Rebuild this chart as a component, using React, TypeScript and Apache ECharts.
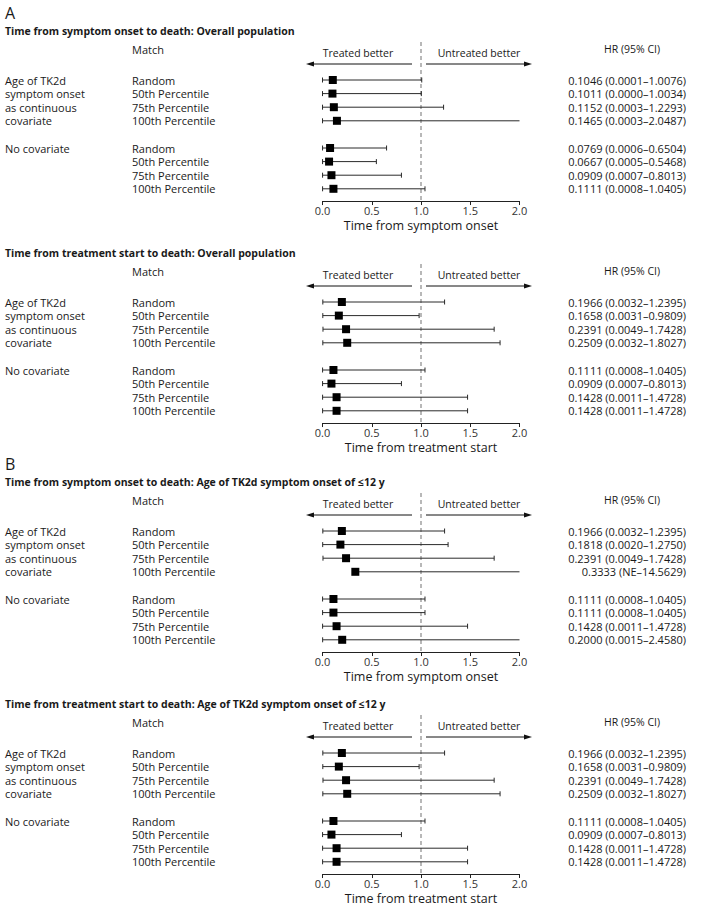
import React, { useEffect, useRef } from "react";
import * as echarts from "echarts";

// ---------- text content ----------
const panelLetters = ["A", "", "B", ""];
const panelTitles = [
  "Time from symptom onset to death: Overall population",
  "Time from treatment start to death: Overall population",
  "Time from symptom onset to death: Age of TK2d symptom onset of ≤12 y",
  "Time from treatment start to death: Age of TK2d symptom onset of ≤12 y",
];
const axisTitles = [
  "Time from symptom onset",
  "Time from treatment start",
  "Time from symptom onset",
  "Time from treatment start",
];
const groupLabels = [["Age of TK2d", "symptom onset", "as continuous", "covariate"], ["No covariate"]];
const matchLabels = ["Random", "50th Percentile", "75th Percentile", "100th Percentile"];
const xTicks = [0, 0.5, 1.0, 1.5, 2.0];
const nullValue = 1;

// ---------- data (HR, lower, upper); null lower = NE ----------
const hrA1 = [0.1046, 0.1011, 0.1152, 0.1465, 0.0769, 0.0667, 0.0909, 0.1111];
const loA1 = [0.0001, 0.0, 0.0003, 0.0003, 0.0006, 0.0005, 0.0007, 0.0008];
const hiA1 = [1.0076, 1.0034, 1.2293, 2.0487, 0.6504, 0.5468, 0.8013, 1.0405];

const hrA2 = [0.1966, 0.1658, 0.2391, 0.2509, 0.1111, 0.0909, 0.1428, 0.1428];
const loA2 = [0.0032, 0.0031, 0.0049, 0.0032, 0.0008, 0.0007, 0.0011, 0.0011];
const hiA2 = [1.2395, 0.9809, 1.7428, 1.8027, 1.0405, 0.8013, 1.4728, 1.4728];

const hrB1 = [0.1966, 0.1818, 0.2391, 0.3333, 0.1111, 0.1111, 0.1428, 0.2];
const loB1: (number | null)[] = [0.0032, 0.002, 0.0049, null, 0.0008, 0.0008, 0.0011, 0.0015];
const hiB1 = [1.2395, 1.275, 1.7428, 14.5629, 1.0405, 1.0405, 1.4728, 2.458];

const hrB2 = [0.1966, 0.1658, 0.2391, 0.2509, 0.1111, 0.0909, 0.1428, 0.1428];
const loB2 = [0.0032, 0.0031, 0.0049, 0.0032, 0.0008, 0.0007, 0.0011, 0.0011];
const hiB2 = [1.2395, 0.9809, 1.7428, 1.8027, 1.0405, 0.8013, 1.4728, 1.4728];

const panelData = [
  { hr: hrA1, lo: loA1 as (number | null)[], hi: hiA1 },
  { hr: hrA2, lo: loA2 as (number | null)[], hi: hiA2 },
  { hr: hrB1, lo: loB1, hi: hiB1 },
  { hr: hrB2, lo: loB2 as (number | null)[], hi: hiB2 },
];

// ---------- layout ----------
const W = 707;
const H = 909;
const FONT = "Open Sans";
const ROW0 = [80, 302, 531, 753];
const ROW_H = 13.6;
const Y_MIN = -2.8;
const Y_MAX = 8.9;
const PLOT_LEFT = 322.5;
const PLOT_RIGHT = 519.5;
const X_LABEL_GROUP = 5;
const X_LABEL_MATCH = 132;
const X_HR_RIGHT = 686;
const X_HR_HEAD = 632;
const TEXT_COLOR = "#1a1a1a";

const rowIndex = (i: number) => Math.floor(i / 4) * 5 + (i % 4);
const fmt = (v: number | null) => (v == null ? "NE" : v.toFixed(4));

export default function App() {
  const ref = useRef<HTMLDivElement>(null);

  useEffect(() => {
    if (!ref.current) return;
    const chart = echarts.init(ref.current, undefined, { renderer: "svg" });

    const grids: any[] = [];
    const xAxes: any[] = [];
    const yAxes: any[] = [];
    const series: any[] = [];
    const graphics: any[] = [];

    panelData.forEach((pd, k) => {
      const r0 = ROW0[k];
      const top = r0 + Y_MIN * ROW_H;
      const height = (Y_MAX - Y_MIN) * ROW_H;
      grids.push({ left: PLOT_LEFT, width: PLOT_RIGHT - PLOT_LEFT, top, height, containLabel: false });
      xAxes.push({
        gridIndex: k,
        type: "value",
        min: xTicks[0],
        max: xTicks[xTicks.length - 1],
        interval: xTicks[1] - xTicks[0],
        axisLine: { show: true, onZero: false, lineStyle: { color: "#222", width: 1 } },
        axisTick: { show: true, length: 4, lineStyle: { color: "#222" } },
        splitLine: { show: false },
        axisLabel: {
          margin: 4,
          fontSize: 11,
          fontFamily: FONT,
          color: "#333",
          formatter: (v: number) => v.toFixed(1),
        },
        name: axisTitles[k],
        nameLocation: "middle",
        nameGap: 18,
        nameTextStyle: { fontSize: 12.5, fontFamily: FONT, color: TEXT_COLOR },
      });
      yAxes.push({
        gridIndex: k,
        type: "value",
        min: Y_MIN,
        max: Y_MAX,
        inverse: true,
        show: false,
      });

      // reference line at HR = 1
      series.push({
        type: "line",
        xAxisIndex: k,
        yAxisIndex: k,
        data: [
          [nullValue, Y_MIN],
          [nullValue, Y_MAX],
        ],
        symbol: "none",
        silent: true,
        z: 1,
        lineStyle: { color: "#a0a0a0", width: 1.5, type: [4, 3] },
      });

      // forest rows
      series.push({
        type: "custom",
        xAxisIndex: k,
        yAxisIndex: k,
        clip: false,
        z: 3,
        data: pd.hr.map((v, i) => [v, rowIndex(i)]),
        encode: { x: 0, y: 1 },
        renderItem: (params: any, api: any) => {
          const i = params.dataIndex;
          const row = rowIndex(i);
          const hr = pd.hr[i];
          const lo = pd.lo[i];
          const hi = pd.hi[i];
          const xMax = xTicks[xTicks.length - 1];
          const [xHr, y] = api.coord([hr, row]);
          const xLo = lo == null ? xHr : api.coord([lo, row])[0];
          const xHi = api.coord([Math.min(hi, xMax), row])[0];
          const children: any[] = [];
          const lineStyle = { stroke: "#2a2a2a", lineWidth: 1 };
          children.push({ type: "line", shape: { x1: xLo, y1: y, x2: xHi, y2: y }, style: lineStyle });
          if (lo != null) {
            children.push({ type: "line", shape: { x1: xLo, y1: y - 2.5, x2: xLo, y2: y + 2.5 }, style: lineStyle });
          }
          if (hi <= xMax) {
            children.push({ type: "line", shape: { x1: xHi, y1: y - 2.5, x2: xHi, y2: y + 2.5 }, style: lineStyle });
          }
          children.push({
            type: "rect",
            shape: { x: xHr - 4, y: y - 4, width: 8, height: 8 },
            style: { fill: "#000" },
          });
          const textBase = { fill: TEXT_COLOR, fontSize: 11, fontFamily: FONT, textVerticalAlign: "middle" };
          children.push({
            type: "text",
            style: { ...textBase, text: matchLabels[i % 4], x: X_LABEL_MATCH, y, textAlign: "left" },
          });
          children.push({
            type: "text",
            style: { ...textBase, text: `${fmt(hr)} (${fmt(lo)}–${fmt(hi)})`, x: X_HR_RIGHT, y, textAlign: "right" },
          });
          const g = Math.floor(i / 4);
          const gl = groupLabels[g][i % 4];
          if (gl) {
            children.push({
              type: "text",
              style: { ...textBase, text: gl, x: X_LABEL_GROUP, y, textAlign: "left" },
            });
          }
          return { type: "group", children };
        },
      });

      // headers
      const tb = { fill: TEXT_COLOR, fontFamily: FONT, textVerticalAlign: "middle" };
      if (panelLetters[k]) {
        graphics.push({
          type: "text",
          x: X_LABEL_GROUP,
          y: r0 - 67,
          style: { ...tb, text: panelLetters[k], fontSize: 16, textAlign: "left" },
        });
      }
      graphics.push({
        type: "text",
        x: X_LABEL_GROUP,
        y: r0 - 49,
        style: { ...tb, text: panelTitles[k], fontSize: 10.5, fontWeight: "bold", textAlign: "left" },
      });
      graphics.push({
        type: "text",
        x: X_LABEL_MATCH,
        y: r0 - 31,
        style: { ...tb, text: "Match", fontSize: 11, textAlign: "left" },
      });
      graphics.push({
        type: "text",
        x: X_HR_HEAD,
        y: r0 - 31,
        style: { ...tb, text: "HR (95% CI)", fontSize: 10.5, textAlign: "center" },
      });
      graphics.push({
        type: "text",
        x: 358,
        y: r0 - 27,
        style: { ...tb, text: "Treated better", fontSize: 10.5, textAlign: "center" },
      });
      graphics.push({
        type: "text",
        x: 479,
        y: r0 - 27,
        style: { ...tb, text: "Untreated better", fontSize: 10.5, textAlign: "center" },
      });
      const ay = r0 - 16;
      graphics.push({
        type: "line",
        shape: { x1: 312, y1: ay, x2: 412, y2: ay },
        style: { stroke: "#111", lineWidth: 1 },
      });
      graphics.push({
        type: "polygon",
        shape: { points: [[306, ay], [314, ay - 2.5], [314, ay + 2.5]] },
        style: { fill: "#111" },
      });
      graphics.push({
        type: "line",
        shape: { x1: 426, y1: ay, x2: 526, y2: ay },
        style: { stroke: "#111", lineWidth: 1 },
      });
      graphics.push({
        type: "polygon",
        shape: { points: [[532, ay], [524, ay - 2.5], [524, ay + 2.5]] },
        style: { fill: "#111" },
      });
    });

    chart.setOption({
      animation: false,
      backgroundColor: "#ffffff",
      textStyle: { fontFamily: FONT },
      grid: grids,
      xAxis: xAxes,
      yAxis: yAxes,
      series,
      graphic: { elements: graphics },
    });

    return () => chart.dispose();
  }, []);

  return (
    <div
      ref={ref}
      style={{ position: "fixed", left: 0, top: 0, width: W, height: H }}
    />
  );
}
